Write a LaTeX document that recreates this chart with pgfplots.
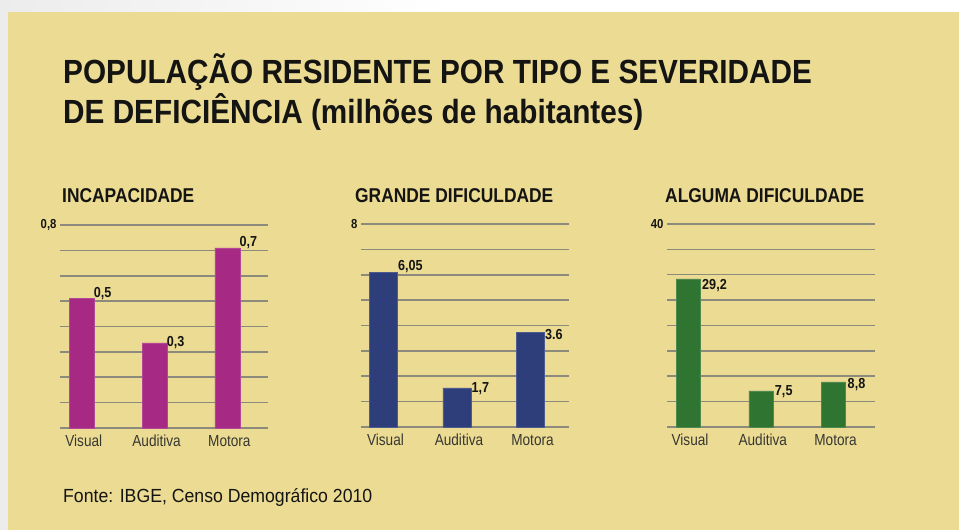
\documentclass[border=0pt]{standalone}
\usepackage{fontspec}
\usepackage{pgfplots}
\pgfplotsset{compat=1.18}
\setmainfont{Liberation Sans}
\newfontfamily\titlefont{Liberation Sans}[UprightFont=* Bold, FakeStretch=0.888]
\newfontfamily\boldc{Liberation Sans}[UprightFont=* Bold, FakeStretch=0.87]
\newfontfamily\regc{Liberation Sans}[FakeStretch=0.85]
\newfontfamily\srcfont{Liberation Sans}[FakeStretch=0.93]
\definecolor{bgy}{RGB}{236,219,147}
\definecolor{mag}{RGB}{166,41,131}
\definecolor{navy}{RGB}{46,62,122}
\definecolor{grn}{RGB}{47,117,49}
\definecolor{gridc}{RGB}{140,138,124}
\definecolor{txt}{RGB}{20,20,18}
\definecolor{tickc}{RGB}{55,55,50}
\definecolor{lgray}{RGB}{236,236,236}

\pgfplotsset{
  panel/.style={
    scale only axis, width=208pt, height=203pt, anchor=south west,
    ymin=0, axis line style={draw=none}, major tick length=0pt,
    ymajorgrids, grid style={draw=gridc, line width=1.5pt},
    xtick={0,1,2}, xticklabels={Visual,Auditiva,Motora},
    xticklabel style={font=\regc\fontsize{16}{16}\selectfont, text=tickc, anchor=base, yshift=-19pt, xshift=2pt},
    yticklabel style={font=\boldc\fontsize{13}{13}\selectfont, text=txt},
    /pgf/number format/assume math mode=true,
    clip=false,
  },
  lbl/.style={draw=none, nodes near coords, point meta=explicit symbolic,
    nodes near coords style={anchor=base west, inner sep=0pt, text=txt,
      font=\boldc\fontsize{14.5}{14.5}\selectfont, xshift=#1}},
}

\begin{document}
\begin{tikzpicture}[x=1pt,y=1pt]
\path[use as bounding box] (0,0) rectangle (959,530);
\fill[white] (0,0) rectangle (959,530);
\shade[left color=lgray, right color=white] (0,518) rectangle (450,530);
\fill[lgray] (0,0) rectangle (8,518);
\fill[bgy] (8,0) rectangle (959,518);
\coordinate (p1) at (60,102);
\coordinate (p2) at (361,103);
\coordinate (p3) at (667,103);

\node[anchor=base west, inner sep=0pt, text=txt, font=\titlefont\fontsize{33.5}{33.5}\selectfont] at (63,446) {POPULAÇÃO RESIDENTE POR TIPO E SEVERIDADE};
\node[anchor=base west, inner sep=0pt, text=txt, font=\titlefont\fontsize{33.5}{33.5}\selectfont] at (63,406) {DE DEFICIÊNCIA (milhões de habitantes)};

\node[anchor=base west, inner sep=0pt, text=txt, font=\boldc\fontsize{20}{20}\selectfont] at (62,327) {INCAPACIDADE};
\node[anchor=base west, inner sep=0pt, text=txt, font=\boldc\fontsize{20}{20}\selectfont] at (355,327) {GRANDE DIFICULDADE};
\node[anchor=base west, inner sep=0pt, text=txt, font=\boldc\fontsize{20}{20}\selectfont] at (665,327) {ALGUMA DIFICULDADE};

\node[anchor=base west, inner sep=0pt, text=txt, font=\srcfont\fontsize{19}{19}\selectfont] at (63,27) {Fonte: IBGE, Censo Demográfico 2010};

% Panel 1
\begin{axis}[panel, at={(p1)}, xmin=-0.299, xmax=2.558, ymax=0.8,
  ytick={0,0.1,0.2,0.3,0.4,0.5,0.6,0.7,0.8},
  yticklabels={{},{},{},{},{},{},{},{},{0,8}}]
\addplot[ybar, bar width=25pt, fill=mag, draw=mag!85!white, line width=0.5pt] coordinates {(0,0.51) (1,0.335) (2,0.71)};
\addplot[lbl=12pt] table[meta=label] {
x y label
0 0.516 0,5
1 0.323 0,3
2 0.717 0,7
};
\end{axis}

% Panel 2
\begin{axis}[panel, at={(p2)}, xmin=-0.306, xmax=2.524, ymax=8,
  ytick={0,1,2,3,4,5,6,7,8},
  yticklabels={{},{},{},{},{},{},{},{},8}]
\addplot[ybar, bar width=28pt, fill=navy, draw=navy!85!white, line width=0.5pt] coordinates {(0,6.1) (1,1.54) (2,3.74)};
\addplot[lbl=14.5pt] table[meta=label] {
x y label
0 6.15 6,05
1 1.34 1,7
2 3.43 3.6
};
\end{axis}

% Panel 3
\begin{axis}[panel, at={(p3)}, xmin=-0.289, xmax=2.570, ymax=40,
  ytick={0,5,10,15,20,25,30,35,40},
  yticklabels={{},{},{},{},{},{},{},{},40}]
\addplot[ybar, bar width=24pt, fill=grn, draw=grn!85!white, line width=0.5pt] coordinates {(0,29.2) (1,7.1) (2,8.9)};
\addplot[lbl=14pt] table[meta=label] {
x y label
0 27.0 29,2
1 6.3 7,5
2 7.49 8,8
};
\end{axis}
\end{tikzpicture}
\end{document}
